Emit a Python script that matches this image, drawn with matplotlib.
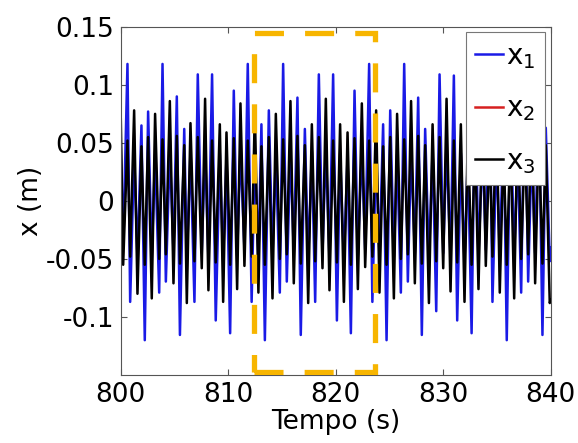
import matplotlib
matplotlib.use("Agg")
import matplotlib.pyplot as plt
from matplotlib.patches import Rectangle

plt.rcParams['font.family'] = ['DejaVu Sans']
plt.rcParams['mathtext.fontset'] = 'dejavusans'

# times of the extrema (peaks / troughs)
t_ext = [800.00, 800.22, 800.62, 800.87, 801.24, 801.55, 801.92, 802.23, 802.54, 802.88,
         803.19, 803.57, 803.88, 804.19, 804.56, 804.90, 805.21, 805.50, 805.90, 806.14,
         806.48, 806.85, 807.16, 807.53, 807.84, 808.15, 808.49, 808.83, 809.21, 809.52,
         809.83, 810.17, 810.51, 810.82, 811.13, 811.50, 811.81, 812.17, 812.47, 812.80,
         813.08, 813.40, 813.77, 814.11, 814.42, 814.79, 815.10, 815.44, 815.78, 816.09,
         816.43, 816.74, 817.12, 817.43, 817.77, 818.08, 818.42, 818.76, 819.07, 819.41,
         819.75, 820.10, 820.40, 820.75, 821.09, 821.40, 821.74, 822.05, 822.42, 822.73,
         823.10, 823.40, 823.75, 824.06, 824.40, 824.72, 825.06, 825.40, 825.70, 826.05,
         826.36, 826.70, 827.00, 827.35, 827.66, 828.00, 828.31, 828.66, 829.00, 829.34,
         829.65, 829.99, 830.30, 830.67, 830.98, 831.29, 831.63, 831.97, 832.28, 832.63,
         832.95, 833.27, 833.66, 833.95, 834.30, 834.57, 834.95, 835.25, 835.60, 835.90,
         836.25, 836.59, 836.92, 837.24, 837.58, 837.89, 838.22, 838.54, 838.88, 839.22,
         839.53, 839.90, 840.00]

# x1 (blue)
x1 = [0.045, -0.040, 0.118, -0.087, 0.042, -0.050, 0.065, -0.120, 0.077, -0.048,
      0.040, -0.079, 0.118, -0.0695, 0.044, -0.045, 0.090, -0.1155, 0.062, -0.052,
      0.043, -0.087, 0.109, -0.045, 0.046, -0.050, 0.109, -0.103, 0.041, -0.052,
      0.038, -0.114, 0.095, -0.047, 0.045, -0.042, 0.118, -0.087, 0.044, -0.049,
      0.066, -0.120, 0.078, -0.048, 0.040, -0.079, 0.118, -0.0695, 0.044, -0.045,
      0.089, -0.1155, 0.062, -0.052, 0.043, -0.087, 0.109, -0.045, 0.046, -0.050,
      0.109, -0.103, 0.041, -0.052, 0.038, -0.114, 0.095, -0.047, 0.045, -0.042,
      0.118, -0.087, 0.044, -0.049, 0.066, -0.120, 0.078, -0.048, 0.040, -0.079,
      0.118, -0.0695, 0.044, -0.045, 0.089, -0.1155, 0.062, -0.052, 0.043, -0.095,
      0.109, -0.045, 0.046, -0.050, 0.108, -0.103, 0.041, -0.052, 0.038, -0.114,
      0.095, -0.047, 0.045, -0.042, 0.118, -0.087, 0.044, -0.049, 0.066, -0.120,
      0.078, -0.048, 0.040, -0.079, 0.118, -0.0695, 0.044, -0.045, 0.089, -0.1155,
      0.063, -0.052, -0.040]

# x3 (black); x2 lies underneath it
x3 = [0.070, -0.055, 0.052, -0.048, 0.078, -0.080, 0.047, -0.055, 0.055, -0.084,
      0.075, -0.050, 0.053, -0.046, 0.086, -0.071, 0.056, -0.054, 0.048, -0.088,
      0.067, -0.052, 0.055, -0.058, 0.088, -0.077, 0.052, -0.053, 0.066, -0.087,
      0.059, -0.055, 0.054, -0.076, 0.084, -0.056, 0.052, -0.048, 0.078, -0.079,
      0.047, -0.055, 0.055, -0.084, 0.075, -0.050, 0.053, -0.046, 0.086, -0.071,
      0.056, -0.054, 0.048, -0.088, 0.066, -0.052, 0.055, -0.058, 0.088, -0.077,
      0.052, -0.053, 0.066, -0.087, 0.059, -0.055, 0.054, -0.076, 0.084, -0.057,
      0.052, -0.048, 0.078, -0.079, 0.047, -0.055, 0.055, -0.084, 0.075, -0.050,
      0.053, -0.046, 0.086, -0.071, 0.056, -0.054, 0.048, -0.088, 0.066, -0.052,
      0.055, -0.058, 0.088, -0.078, 0.052, -0.053, 0.066, -0.087, 0.059, -0.055,
      0.054, -0.076, 0.084, -0.056, 0.052, -0.048, 0.078, -0.079, 0.047, -0.055,
      0.055, -0.084, 0.075, -0.050, 0.053, -0.046, 0.086, -0.071, 0.056, -0.054,
      0.048, -0.088, -0.085]
x2 = list(x3)

# highlighted window
win_t0, win_t1 = 812.35, 823.6
win_lo, win_hi = -0.147, 0.145

fig = plt.figure(figsize=(5.78, 4.43), dpi=100)
ax = fig.add_axes([0.209, 0.1535, 0.744, 0.786])

ax.plot(t_ext, x1, color='#1a1ae6', lw=1.8, label='$\\mathregular{x_1}$')
ax.plot(t_ext, x2, color='#d62020', lw=0.8, label='$\\mathregular{x_2}$')
ax.plot(t_ext, x3, color='black', lw=1.8, label='$\\mathregular{x_3}$')

rect = Rectangle((win_t0, win_lo), win_t1 - win_t0, win_hi - win_lo, fill=False,
                 edgecolor='#f7b500', lw=3.8, linestyle=(0, (5.5, 4)), zorder=5)
ax.add_patch(rect)

ax.set_xlim(800, 840)
ax.set_ylim(-0.15, 0.15)
ax.set_xticks([800, 810, 820, 830, 840])
ax.set_yticks([-0.1, -0.05, 0, 0.05, 0.1, 0.15])
ax.set_yticklabels(['-0.1', '-0.05', '0', '0.05', '0.1', '0.15'])
ax.tick_params(direction='in', top=True, right=True, labelsize=19, length=4,
               color='#555555', pad=5)
for s in ax.spines.values():
    s.set_color('#555555')
    s.set_linewidth(0.8)

ax.set_xlabel('Tempo (s)', fontsize=19, labelpad=1)
ax.set_ylabel('x (m)', fontsize=19, labelpad=1)

leg = ax.legend(loc='upper right', fontsize=20, handlelength=1.0, handletextpad=0.1,
                labelspacing=0.85, borderpad=0.35, borderaxespad=0.2,
                fancybox=False, framealpha=1, edgecolor='#777777')
leg.get_frame().set_linewidth(0.8)
leg.set_zorder(10)
for ln in leg.get_lines():
    ln.set_linewidth(1.8)

fig.savefig('out.png', dpi=100)
